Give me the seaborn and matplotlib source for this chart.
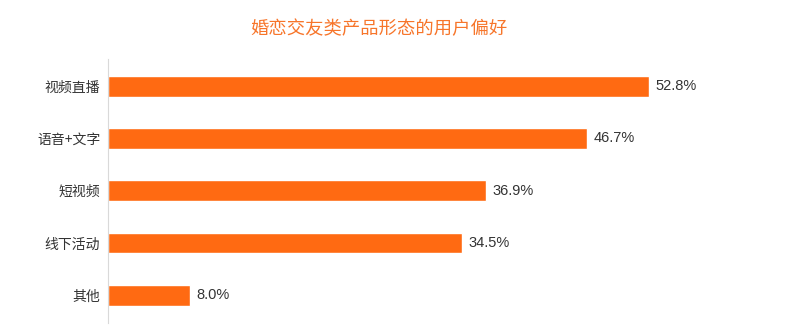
import matplotlib
matplotlib.use("Agg")
import matplotlib.pyplot as plt
import seaborn as sns
import pandas as pd

categories = ["视频直播", "语音+文字", "短视频", "线下活动", "其他"]
values = [52.8, 46.7, 36.9, 34.5, 8.0]
value_labels = ["52.8%", "46.7%", "36.9%", "34.5%", "8.0%"]
title = "婚恋交友类产品形态的用户偏好"

sns.set_style("white")
plt.rcParams["font.family"] = ["Noto Sans CJK SC", "DejaVu Sans"]

df = pd.DataFrame({"category": categories, "value": values})

fig = plt.figure(figsize=(7.91, 3.29), dpi=100)
ax = fig.add_axes([108 / 791, 1 - 323 / 329, (770 - 108) / 791, (323 - 59) / 329])

sns.barplot(data=df, x="value", y="category", orient="h", color="#FF6A12",
            width=0.4, saturation=1, ax=ax)

for i, (v, lab) in enumerate(zip(values, value_labels)):
    ax.text(v + 0.65, i, lab, va="center", ha="left", fontsize=10.5,
            family="Liberation Sans", color="#333333")

ax.set_xlim(0, (770 - 108) / 10.25)
ax.set_ylim(4.53, -0.52)
ax.set_xlabel("")
ax.set_ylabel("")
ax.set_xticks([])
ax.tick_params(axis="y", length=0, pad=5.5, labelsize=10, labelcolor="#333333")
for s in ["top", "right", "bottom"]:
    ax.spines[s].set_visible(False)
ax.spines["left"].set_color("#d9d9d9")
ax.spines["left"].set_linewidth(0.8)

fig.text(378.5 / 791, 1 - 29 / 329, title, ha="center", va="center",
         fontsize=13.2, color="#F7752A")

fig.savefig("out.png", dpi=100)
